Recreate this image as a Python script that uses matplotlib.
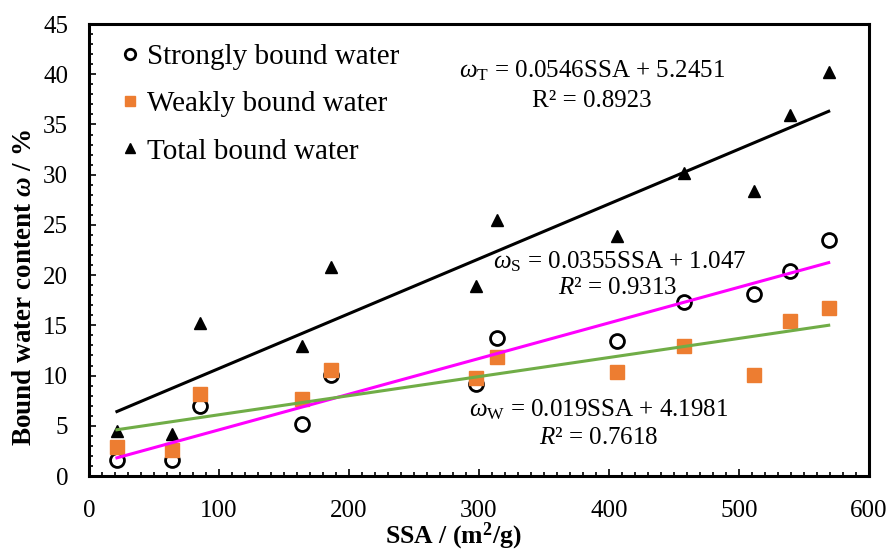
import matplotlib
matplotlib.use("Agg")
import matplotlib.pyplot as plt
import numpy as np
from matplotlib.ticker import MultipleLocator

plt.rcParams['font.family'] = ['Liberation Serif', 'DejaVu Serif']
plt.rcParams['mathtext.fontset'] = 'custom'
plt.rcParams['mathtext.rm'] = 'Liberation Serif'
plt.rcParams['mathtext.it'] = 'Liberation Serif:italic'
plt.rcParams['mathtext.bf'] = 'Liberation Serif:bold'
plt.rcParams['mathtext.bfit'] = 'Liberation Serif:bold:italic'

# Data
ssa = [21.5, 63.6, 85.6, 164, 186, 298, 314, 406, 458, 511.5, 539, 569]
strong = [1.6, 1.6, 7.0, 5.2, 10.1, 9.2, 13.7, 13.4, 17.3, 18.1, 20.4, 23.5]
weak = [2.9, 2.6, 8.2, 7.7, 10.6, 9.8, 11.8, 10.4, 12.9, 10.1, 15.4, 16.7]
total = [4.5, 4.2, 15.2, 12.9, 20.8, 18.9, 25.5, 23.9, 30.2, 28.4, 35.9, 40.2]

# Trendline coefficients (slope, intercept)
fit_total = [0.0546, 5.2451]
fit_strong = [0.0355, 1.047]
fit_weak = [0.019, 4.1981]

fig = plt.figure(figsize=(8.88, 5.51), dpi=100)
ax = fig.add_axes([0.1002, 0.1361, 0.8784, 0.8203])

ax.plot(ssa, strong, 'o', ms=10, mfc='white', mec='black', mew=2.0,
        label='Strongly bound water', zorder=3)
ax.plot(ssa, weak, 's', ms=9.5, color='#ED7D31', mec='#ED7D31',
        label='Weakly bound water', zorder=4)
ax.plot(ssa, total, '^', ms=9, color='black',
        label='Total bound water', zorder=5)

xs = np.array([min(ssa), max(ssa)])
ax.plot(xs, np.polyval(fit_total, xs), color='black', lw=2.2, zorder=6)
ax.plot(xs, np.polyval(fit_strong, xs), color='#FF00FF', lw=2.2, zorder=6)
ax.plot(xs, np.polyval(fit_weak, xs), color='#70AD47', lw=2.2, zorder=6)

ax.set_xlim(0, 600)
ax.set_ylim(0, 45)
ax.xaxis.set_major_locator(MultipleLocator(100))
ax.xaxis.set_minor_locator(MultipleLocator(10))
ax.yaxis.set_major_locator(MultipleLocator(5))
ax.yaxis.set_minor_locator(MultipleLocator(1))
ax.tick_params(which='both', direction='in', top=False, right=False,
               labelsize=18, width=1.2)
ax.tick_params(which='major', length=5)
ax.tick_params(which='minor', length=3)
ax.tick_params(axis='x', which='major', pad=17)
ax.tick_params(axis='y', which='major', pad=15)
for s in ax.spines.values():
    s.set_linewidth(2.2)

ax.set_xlabel(r'SSA / (m$^{\mathbf{2}}$/g)', fontsize=18.5, fontweight='bold')
ax.xaxis.set_label_coords(0.467, -0.098)
ax.set_ylabel(r'Bound water content $\mathbfit{\omega}$ / %', fontsize=19.5,
              fontweight='bold')
ax.yaxis.set_label_coords(-0.066, 0.416)

ax.legend(loc='upper left', bbox_to_anchor=(0.026, 0.983), frameon=False,
          fontsize=21, markerscale=0.75, handlelength=0.6, handletextpad=0.3,
          labelspacing=0.72, borderaxespad=0)

fs = 18
ax.text(387, 40.4, r'$\omega_{\mathrm{T}}$ = 0.0546SSA + 5.2451', fontsize=fs,
        ha='center', va='center')
ax.text(387, 37.3, 'R² = 0.8923', fontsize=fs, ha='center', va='center')
ax.text(408, 21.3, r'$\omega_{\mathrm{S}}$ = 0.0355SSA + 1.047', fontsize=fs,
        ha='center', va='center')
ax.text(407, 18.7, r'$R$² = 0.9313', fontsize=fs, ha='center', va='center')
ax.text(392, 6.6, r'$\omega_{\mathrm{W}}$ = 0.019SSA + 4.1981', fontsize=fs,
        ha='center', va='center')
ax.text(392, 3.8, r'$R$² = 0.7618', fontsize=fs, ha='center', va='center')

fig.savefig('out.png', dpi=100)
